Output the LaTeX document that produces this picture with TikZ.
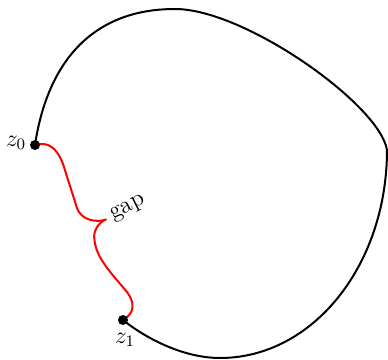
\documentclass[tikz,border=0pt]{standalone}
\begin{document}
\begin{tikzpicture}[x=0.5pt,y=-0.5pt,font=\large,
  dot/.style={circle,fill=black,inner sep=0pt,minimum size=5pt},
  curveline/.style={line width=1pt,black,line join=round},
  gapline/.style={line width=1pt,red,line join=round}]
\useasboundingbox (0,0) rectangle (388,360);
\coordinate (z0) at (35,145);
\coordinate (z1) at (123,320);
\coordinate (top) at (175,9);
\coordinate (right) at (387,150);
\coordinate (bottom) at (220,358);
\coordinate (tip) at (106,219.5);
\draw[curveline] (z0) .. controls (47,65) and (90,9) .. (top)
  .. controls (245,9) and (380,105) .. (right)
  .. controls (387,265) and (313,358) .. (bottom)
  .. controls (185,358) and (148,340) .. (z1);
\draw[gapline] (z0) .. controls (48,141) and (57,148) .. (63,164) -- (77,208)
  .. controls (81,220) and (96,223) .. (tip)
  .. controls (99,222) and (92.5,231) .. (94.5,240)
  .. controls (96,258) and (112,274) .. (127,292)
  .. controls (135,303) and (135,313) .. (z1);
\node[dot] (d0) at (z0) {};
\node[dot] (d1) at (z1) {};
\node (l0) at (16,143) {$z_0$};
\node (l1) at (125,340) {$z_1$};
\node[rotate=26.6, anchor=west, inner sep=3pt] (gaplabel) at (tip) {gap};
\end{tikzpicture}
\end{document}
